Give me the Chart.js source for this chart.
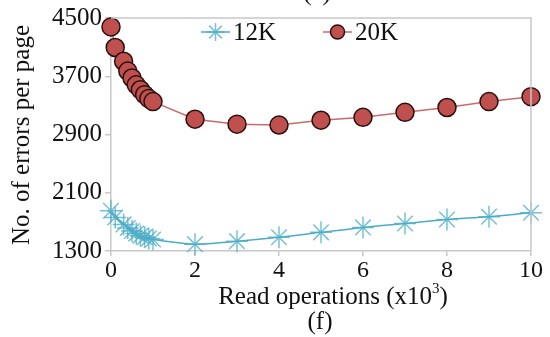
<!DOCTYPE html>
<html>
<head>
<meta charset="utf-8">
<script src="https://cdn.jsdelivr.net/npm/chart.js@4"></script>
<style>
html,body{margin:0;padding:0;background:#fff;}
#wrap{width:550px;height:337px;position:relative;}
</style>
</head>
<body>
<div id="wrap"><canvas id="c" width="550" height="337"></canvas></div>
<script>
// ---- data ----
const xs12K = [0, 0.1, 0.3, 0.4, 0.5, 0.6, 0.7, 0.8, 0.9, 1.0, 2, 3, 4, 5, 6, 7, 8, 9, 10];
const errors12K = [1853, 1760, 1665, 1615, 1575, 1540, 1510, 1490, 1472, 1458, 1394, 1435, 1489, 1556, 1624, 1678, 1732, 1772, 1826];
const xs20K = [0, 0.1, 0.3, 0.4, 0.5, 0.6, 0.7, 0.8, 0.9, 1.0, 2, 3, 4, 5, 6, 7, 8, 9, 10];
const errors20K = [4378, 4095, 3906, 3771, 3676, 3582, 3515, 3447, 3393, 3352, 3110, 3042, 3030, 3096, 3136, 3204, 3271, 3352, 3420];
const seriesNames = ['12K', '20K'];
const yTicks = [1300, 2100, 2900, 3700, 4500];
const xTicks = [0, 2, 4, 6, 8, 10];
const xTitle = 'Read operations (x10';
const xTitleSup = '3';
const yTitle = 'No. of errors per page';
const topLabel = '(e)';
const bottomLabel = '(f)';

const FONT = '"Liberation Serif", "Times New Roman", serif';
const C12 = '#4bacc6';
const C20 = '#c0504d';

const toPts = (xs, ys) => xs.map((x, i) => ({x: x, y: ys[i]}));

const decor = {
  id: 'decor',
  afterDraw(chart) {
    const ctx = chart.ctx;
    const a = chart.chartArea;
    ctx.save();
    // frame top & right
    ctx.strokeStyle = '#c8c8c8';
    ctx.lineWidth = 1.5;
    ctx.beginPath();
    ctx.moveTo(a.left, a.top); ctx.lineTo(a.right, a.top); ctx.lineTo(a.right, a.bottom);
    ctx.stroke();
    ctx.fillStyle = '#111';
    ctx.textBaseline = 'middle';
    // y title
    ctx.save();
    ctx.translate(22, 135);
    ctx.rotate(-Math.PI / 2);
    ctx.font = '25px ' + FONT;
    ctx.textAlign = 'center';
    ctx.fillText(yTitle, 0, 0);
    ctx.restore();
    // x title with superscript
    ctx.font = '25px ' + FONT;
    const w1 = ctx.measureText(xTitle).width;
    ctx.font = '15px ' + FONT;
    const w2 = ctx.measureText(xTitleSup).width;
    ctx.font = '25px ' + FONT;
    const w3 = ctx.measureText(')').width;
    let sx = 333 - (w1 + w2 + w3) / 2;
    ctx.textAlign = 'left';
    ctx.fillText(xTitle, sx, 297);
    ctx.font = '15px ' + FONT;
    ctx.fillText(xTitleSup, sx + w1, 289);
    ctx.font = '25px ' + FONT;
    ctx.fillText(')', sx + w1 + w2, 297);
    // (f) and (e)
    ctx.textAlign = 'center';
    ctx.fillText(bottomLabel, 320, 322);
    ctx.fillText(topLabel, 317, -7);
    // legend
    const ds = chart.data.datasets;
    const items = [{lx: 201, tx: 233}, {lx: 323, tx: 355}];
    items.forEach((it, i) => {
      const d = ds[i];
      const y = 32;
      ctx.strokeStyle = d.borderColor;
      ctx.lineWidth = 1.5;
      ctx.beginPath(); ctx.moveTo(it.lx, y); ctx.lineTo(it.lx + 29, y); ctx.stroke();
      ctx.fillStyle = d.pointBackgroundColor;
      ctx.strokeStyle = d.pointBorderColor;
      ctx.lineWidth = d.pointBorderWidth;
      if (i === 1) {
        ctx.beginPath(); ctx.arc(it.lx + 14.5, y, 7, 0, Math.PI * 2); ctx.fill(); ctx.stroke();
      } else {
        Chart.helpers.drawPoint(ctx, {pointStyle: 'star', radius: 9, borderWidth: 1.5, rotation: 0}, it.lx + 14.5, y);
      }
      ctx.fillStyle = '#111';
      ctx.font = '25px ' + FONT;
      ctx.textAlign = 'left';
      ctx.fillText(seriesNames[i], it.tx, y + 1);
    });
    ctx.restore();
  }
};

new Chart(document.getElementById('c'), {
  type: 'line',
  data: {
    datasets: [
      {
        label: seriesNames[0],
        data: toPts(xs12K, errors12K),
        borderColor: C12,
        borderWidth: 1.5,
        pointStyle: 'star',
        pointRadius: 11,
        pointBorderColor: 'rgba(75,172,198,0.75)',
        pointBackgroundColor: 'rgba(75,172,198,0.75)',
        pointBorderWidth: 1.5,
        tension: 0.3,
        clip: false,
        order: 2
      },
      {
        label: seriesNames[1],
        data: toPts(xs20K, errors20K),
        borderColor: '#c96b69',
        borderWidth: 1.5,
        pointStyle: 'circle',
        pointRadius: 9,
        pointBackgroundColor: C20,
        pointBorderColor: '#2a1010',
        pointBorderWidth: 1.5,
        tension: 0,
        clip: false,
        order: 1
      }
    ]
  },
  options: {
    responsive: false,
    animation: false,
    devicePixelRatio: 1,
    layout: {padding: {top: 14, right: 19, left: 0, bottom: 0}},
    plugins: {legend: {display: false}, tooltip: {enabled: false}},
    scales: {
      x: {
        type: 'linear', min: 0, max: 10,
        afterFit(s) { s.height = 86; },
        afterBuildTicks(s) { s.ticks = xTicks.map(v => ({value: v})); },
        grid: {display: true, drawOnChartArea: false, drawTicks: true, tickLength: 5, color: '#c8c8c8', lineWidth: 1.5},
        border: {display: true, color: '#c8c8c8', width: 1.5},
        ticks: {color: '#111', font: {family: FONT, size: 24}, padding: 0, maxRotation: 0,
                callback: v => String(v)}
      },
      y: {
        min: 1300, max: 4500,
        afterFit(s) { s.width = 111; },
        afterBuildTicks(s) { s.ticks = yTicks.map(v => ({value: v})); },
        grid: {display: true, drawOnChartArea: false, drawTicks: true, tickLength: 6, color: '#c8c8c8', lineWidth: 1.5},
        border: {display: true, color: '#c8c8c8', width: 1.5},
        ticks: {color: '#111', font: {family: FONT, size: 25}, padding: 3,
                callback: v => String(v)}
      }
    }
  },
  plugins: [decor]
});
</script>
</body>
</html>
